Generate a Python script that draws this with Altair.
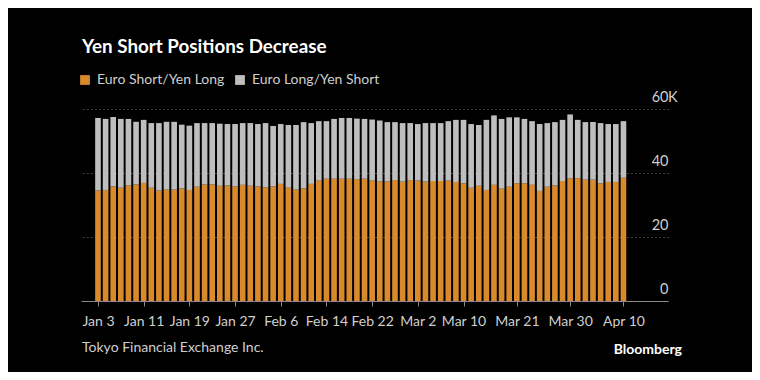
import altair as alt
import pandas as pd

# ---------------- data (thousands of contracts) ----------------
series_names = ["Euro Short/Yen Long", "Euro Long/Yen Short"]

tick_labels = ["Jan 3", "Jan 11", "Jan 19", "Jan 27", "Feb 6", "Feb 14",
               "Feb 22", "Mar 2", "Mar 10", "Mar 21", "Mar 30", "Apr 10"]
# position of each tick label in the 70-bar sequence of trading days
tick_index = [0, 6, 12, 18, 24, 30, 36, 42, 48, 55, 62, 69]

euro_short_yen_long = [
    34.5, 34.7, 35.8, 35.4, 36.1, 36.4, 36.9, 35.4, 34.5, 34.8,
    34.8, 35.2, 34.7, 35.7, 36.4, 36.4, 36.0, 36.1, 35.8, 36.3,
    36.0, 35.8, 35.5, 35.8, 36.6, 35.4, 34.8, 35.2, 36.6, 37.6,
    38.2, 38.2, 38.2, 38.2, 38.1, 38.2, 37.6, 37.3, 37.3, 37.8,
    37.3, 37.8, 37.6, 37.3, 37.5, 37.5, 37.6, 37.2, 36.8, 35.4,
    36.0, 34.7, 36.3, 35.1, 35.7, 36.8, 36.8, 36.3, 34.4, 35.7,
    36.1, 37.5, 38.4, 38.4, 37.9, 37.9, 36.8, 37.2, 37.2, 38.5,
]
euro_long_yen_short = [
    22.7, 22.2, 21.7, 21.5, 20.8, 19.6, 19.7, 20.2, 21.1, 21.2,
    21.2, 19.9, 20.1, 19.9, 19.2, 19.2, 19.4, 19.2, 19.5, 19.3,
    19.6, 19.5, 20.1, 18.9, 18.7, 19.6, 20.2, 20.7, 19.0, 18.6,
    18.0, 18.7, 19.0, 19.0, 18.9, 18.7, 19.1, 19.1, 18.6, 18.1,
    18.3, 17.8, 17.7, 18.3, 18.1, 18.1, 18.6, 19.4, 19.8, 19.9,
    19.0, 21.9, 21.7, 21.8, 21.7, 20.6, 20.1, 19.9, 20.9, 19.9,
    19.8, 19.1, 19.9, 18.2, 18.0, 18.0, 18.8, 18.1, 18.1, 17.7,
]
y_ticks = [0, 20, 40, 60]

title_text = "Yen Short Positions Decrease"
source_text = "Tokyo Financial Exchange Inc."
brand_text = "Bloomberg"

# ---------------- table ----------------
rows = []
for i, (a, b) in enumerate(zip(euro_short_yen_long, euro_long_yen_short)):
    rows.append({"i": i, "series": series_names[0], "y0": 0.0, "y1": a})
    rows.append({"i": i, "series": series_names[1], "y0": a, "y1": a + b})
df = pd.DataFrame(rows)

FONT = "Lato"
ORANGE = "#D98A2D"
GREY = "#BEBEBE"
TXT = "#CFCFCF"

W, H = 587, 192

lab_arr = "[" + ",".join("'" + t + "'" for t in tick_labels) + "]"
idx_arr = "[" + ",".join(str(t) for t in tick_index) + "]"

bars = alt.Chart(df).mark_bar(strokeWidth=0).transform_calculate(
    lo="datum.i - 0.37", hi="datum.i + 0.37"
).encode(
    x=alt.X("lo:Q",
            scale=alt.Scale(domain=[-2.23, 74.85], nice=False, zero=False),
            axis=alt.Axis(values=tick_index,
                          labelExpr=lab_arr + "[indexof(" + idx_arr + ", datum.value)]",
                          title=None, grid=False, labelFlush=False, labelOverlap=False,
                          domainColor="#8A8A8A", tickColor="#8A8A8A", tickSize=5,
                          labelPadding=8, labelFontSize=14, labelColor=TXT,
                          labelFont=FONT)),
    x2="hi:Q",
    y=alt.Y("y0:Q",
            scale=alt.Scale(domain=[0, 60], nice=False),
            axis=alt.Axis(orient="right", values=y_ticks, title=None,
                          grid=True, gridDash=[1, 3], gridColor="#7A7A7A",
                          domain=False, ticks=False, tickSize=0,
                          labelAlign="right", labelBaseline="alphabetic",
                          labelPadding=0, labelOffset=-7.5,
                          labelFlush=False, labelOverlap=False,
                          labelFontSize=14.5, labelColor=TXT, labelFont=FONT)),
    y2="y1:Q",
    color=alt.Color("series:N",
                    scale=alt.Scale(domain=series_names, range=[ORANGE, GREY]),
                    legend=alt.Legend(orient="none", legendX=-3, legendY=-36,
                                      direction="horizontal", title=None,
                                      symbolType="square", symbolSize=96,
                                      symbolStrokeWidth=0, labelFontSize=14,
                                      labelColor=TXT, labelFont=FONT,
                                      labelOffset=5, columnPadding=8,
                                      padding=0)),
)

k_text = alt.Chart(pd.DataFrame({"v": [60], "t": ["K"]})).mark_text(
    align="left", baseline="alphabetic", dy=-7.5, fontSize=14.5, font=FONT, color=TXT
).encode(x=alt.value(W), y=alt.Y("v:Q"), text="t:N")

title = alt.Chart(pd.DataFrame({"t": [title_text]})).mark_text(
    align="left", baseline="alphabetic", fontSize=18.8, fontWeight="bold",
    font=FONT, color="#FFFFFF"
).encode(x=alt.value(1), y=alt.value(-56), text="t:N")

source = alt.Chart(pd.DataFrame({"t": [source_text]})).mark_text(
    align="left", baseline="alphabetic", fontSize=14, font=FONT, color=TXT
).encode(x=alt.value(1), y=alt.value(243), text="t:N")

brand = alt.Chart(pd.DataFrame({"t": [brand_text]})).mark_text(
    align="right", baseline="alphabetic", fontSize=14, fontWeight="bold",
    font=FONT, color="#FFFFFF"
).encode(x=alt.value(601), y=alt.value(245), text="t:N")

chart = alt.layer(bars, k_text, title, source, brand).properties(
    width=W, height=H,
    autosize=alt.AutoSizeParams(type="none"),
    padding={"left": 73, "top": 101, "right": 84, "bottom": 71},
    background="#000000",
).configure_view(stroke=None)

chart.save("out.html", embed_options={"renderer": "svg", "actions": False})
